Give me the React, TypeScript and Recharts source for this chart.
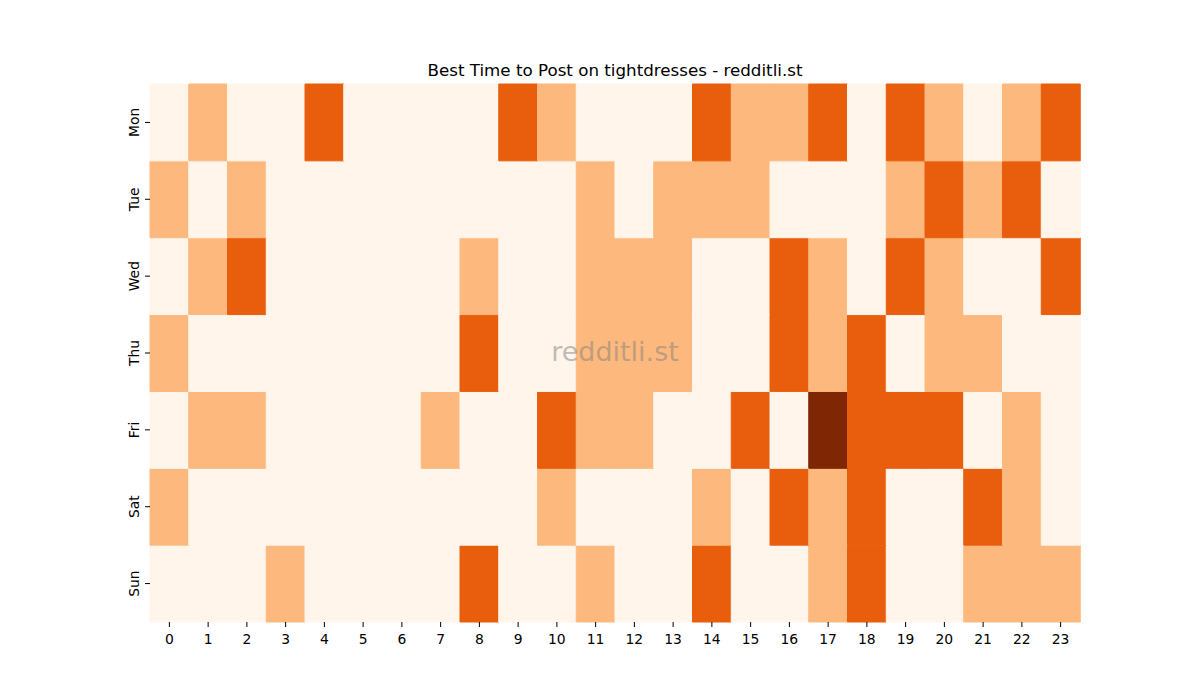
import React from 'react';
import { BarChart, Bar, XAxis, YAxis, Cell } from 'recharts';

const days = ['Mon', 'Tue', 'Wed', 'Thu', 'Fri', 'Sat', 'Sun'];
const hours = ['0','1','2','3','4','5','6','7','8','9','10','11','12','13','14','15','16','17','18','19','20','21','22','23'];

// activity level per hour (0 = lowest, 3 = highest)
const mon = [0,1,0,0,2,0,0,0,0,2,1,0,0,0,2,1,1,2,0,2,1,0,1,2];
const tue = [1,0,1,0,0,0,0,0,0,0,0,1,0,1,1,1,0,0,0,1,2,1,2,0];
const wed = [0,1,2,0,0,0,0,0,1,0,0,1,1,1,0,0,2,1,0,2,1,0,0,2];
const thu = [1,0,0,0,0,0,0,0,2,0,0,1,1,1,0,0,2,1,2,0,1,1,0,0];
const fri = [0,1,1,0,0,0,0,1,0,0,2,1,1,0,0,2,0,3,2,2,2,0,1,0];
const sat = [1,0,0,0,0,0,0,0,0,0,1,0,0,0,1,0,2,1,2,0,0,2,1,0];
const sun = [0,0,0,1,0,0,0,0,2,0,0,1,0,0,2,0,0,1,2,0,0,1,1,1];

const levels: Record<string, number[]> = { Mon: mon, Tue: tue, Wed: wed, Thu: thu, Fri: fri, Sat: sat, Sun: sun };
const palette = ['#fff5eb', '#fdb97d', '#e95e0d', '#7f2704'];

const data = hours.map((h) => {
  const row: Record<string, any> = { hour: h };
  days.forEach((d) => { row[d] = 1; });
  return row;
});

const yTicks = [6.5, 5.5, 4.5, 3.5, 2.5, 1.5, 0.5];
const stackOrder = [...days].reverse();
const FONT = '"DejaVu Sans", sans-serif';

const YTick = (props: any) => {
  const { x, y, payload } = props;
  const idx = Math.round(6.5 - payload.value);
  const bx = x - 6;
  return (
    <text x={bx} y={y} transform={`rotate(-90, ${bx}, ${y})`} textAnchor="middle" fill="#000" fontSize={13.9} fontFamily={FONT}>
      {days[idx]}
    </text>
  );
};

export default function App() {
  return (
    <div style={{ position: 'absolute', left: 0, top: 0, width: 1200, height: 700, background: '#fff' }}>
      <div style={{ position: 'absolute', left: 150, top: 60, width: 930, textAlign: 'center', fontFamily: FONT, fontSize: 16.7, lineHeight: '20px', color: '#000' }}>
        Best Time to Post on tightdresses - redditli.st
      </div>
      <BarChart width={1200} height={700} data={data} margin={{ top: 84, right: 120, bottom: 48, left: 110 }} barCategoryGap={0} barGap={0}>
        <XAxis dataKey="hour" axisLine={false} tickLine={{ stroke: '#000' }} tickSize={5} tickMargin={7} height={30} interval={0}
          tick={{ fill: '#000', fontSize: 13.9, fontFamily: FONT }} />
        <YAxis type="number" domain={[0, 7]} ticks={yTicks} width={40} axisLine={false} tickLine={{ stroke: '#000' }} tickSize={5} tickMargin={0}
          tick={<YTick />} />
        {stackOrder.map((d) => (
          <Bar key={d} dataKey={d} stackId="a" isAnimationActive={false}>
            {levels[d].map((lv, i) => (
              <Cell key={i} fill={palette[lv]} stroke={palette[lv]} strokeWidth={1} />
            ))}
          </Bar>
        ))}
      </BarChart>
      <div style={{ position: 'absolute', left: 150, top: 336, width: 930, textAlign: 'center', fontFamily: FONT, fontSize: 27, lineHeight: '32px', color: 'rgba(128,128,128,0.5)', pointerEvents: 'none' }}>
        redditli.st
      </div>
    </div>
  );
}
